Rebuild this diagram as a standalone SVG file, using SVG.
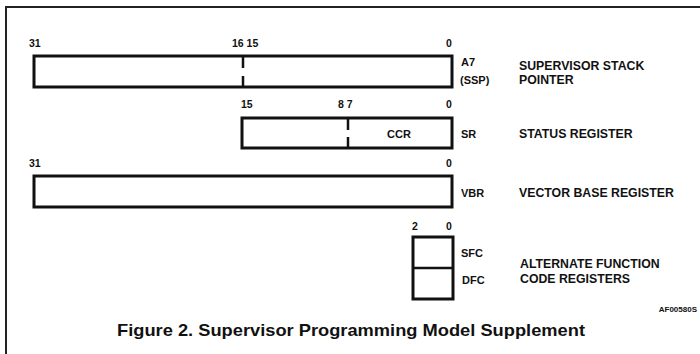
<svg xmlns="http://www.w3.org/2000/svg" width="700" height="354" viewBox="0 0 700 354">
<style>
.reg{fill:none;stroke:#111;stroke-width:3}
.div{stroke:#111;stroke-width:2.5}
.frame{stroke:#222;stroke-width:2;fill:none}
text{font-family:"Liberation Sans",Arial,sans-serif;font-weight:bold;fill:#111}
.n{font-size:10.5px}
.l{font-size:11px}
.d{font-size:12.3px}
.t{font-size:17px}
.s{font-size:8px}
</style>
<rect width="700" height="354" fill="#fff"/>
<path class="frame" d="M6,354 V7 H700"/>
<g id="a7">
<rect class="reg" x="34" y="56" width="418" height="31"/>
<path class="div" d="M243,56 V68 M243,76 V87"/>
<text class="n" x="29" y="47">31</text>
<text class="n" x="232" y="47">16 15</text>
<text class="n" x="446" y="47">0</text>
<text class="l" x="461" y="66">A7</text>
<text class="l" x="460" y="84">(SSP)</text>
<text class="d" x="519" y="70">SUPERVISOR STACK</text>
<text class="d" x="519" y="84">POINTER</text>
</g>
<g id="sr">
<rect class="reg" x="242" y="118" width="210" height="30"/>
<path class="div" d="M348,118 V130 M348,137 V148"/>
<text class="n" x="241" y="108">15</text>
<text class="n" x="338" y="108">8 7</text>
<text class="n" x="446" y="108">0</text>
<text class="l" x="387" y="138">CCR</text>
<text class="l" x="461" y="138">SR</text>
<text class="d" x="519" y="138">STATUS REGISTER</text>
</g>
<g id="vbr">
<rect class="reg" x="34" y="176" width="418" height="31"/>
<text class="n" x="29" y="167">31</text>
<text class="n" x="446" y="167">0</text>
<text class="l" x="461" y="197">VBR</text>
<text class="d" x="519" y="197">VECTOR BASE REGISTER</text>
</g>
<g id="afc">
<rect class="reg" x="413" y="237" width="40" height="62"/>
<path class="div" d="M413,268 H453"/>
<text class="n" x="412" y="230">2</text>
<text class="n" x="446" y="230">0</text>
<text class="l" x="461" y="257">SFC</text>
<text class="l" x="462" y="284">DFC</text>
<text class="d" x="520" y="268">ALTERNATE FUNCTION</text>
<text class="d" x="520" y="283">CODE REGISTERS</text>
</g>
<g id="connectors"></g>
<text class="s" x="697" y="312" text-anchor="end">AF00580S</text>
<text class="t" x="117" y="336" textLength="468" lengthAdjust="spacingAndGlyphs">Figure 2. Supervisor Programming Model Supplement</text>
</svg>
